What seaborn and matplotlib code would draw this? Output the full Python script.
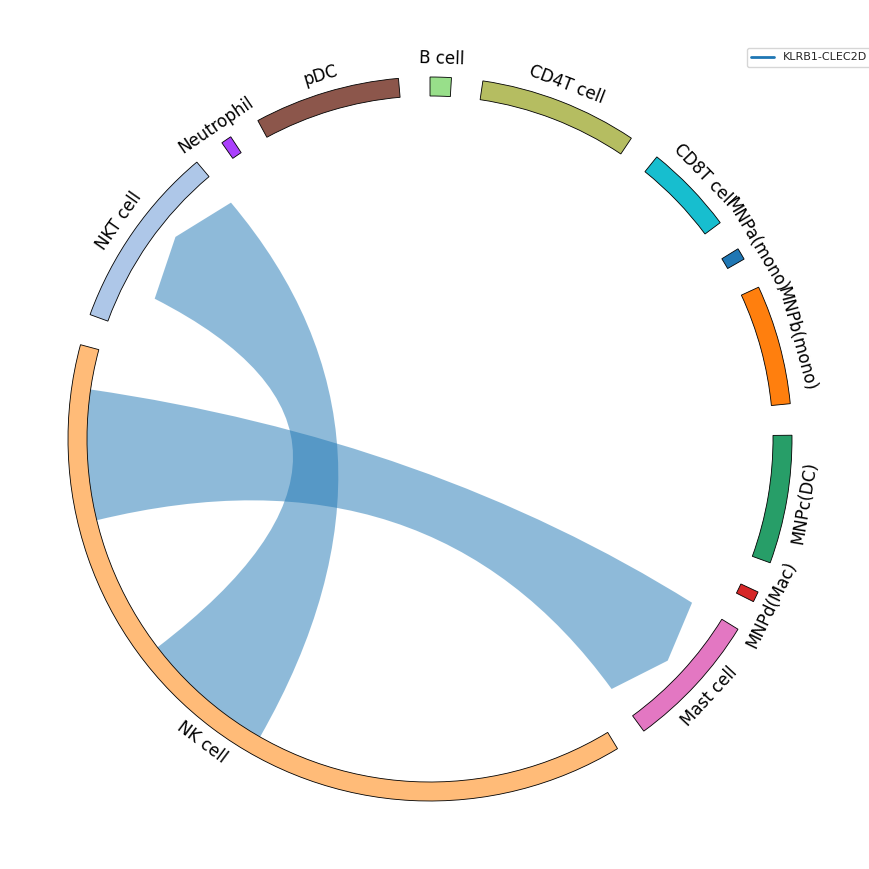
import numpy as np
import matplotlib
matplotlib.use("Agg")
import matplotlib.pyplot as plt
from matplotlib.patches import Wedge, PathPatch
from matplotlib.path import Path
from matplotlib.lines import Line2D
import seaborn as sns

# ---------------- data ----------------
cell_types = ["B cell", "CD4T cell", "CD8T cell", "MNPa(mono)", "MNPb(mono)",
              "MNPc(DC)", "MNPd(Mac)", "Mast cell", "NK cell", "NKT cell",
              "Neutrophil", "pDC"]
cell_sizes = [3.4, 25.4, 14.5, 1.9, 19.2, 20.6, 1.7, 22.1, 136.3, 29.8, 1.7, 23.4]
cell_colors = ["#98df8a", "#b5bd61", "#17becf", "#1f77b4", "#ff7f0e",
               "#279e68", "#d62728", "#e377c2", "#ffbb78", "#aec7e8",
               "#aa40fc", "#8c564b"]

pair_name = "KLRB1-CLEC2D"
chord_sources = ["NK cell", "NK cell"]
chord_targets = ["Mast cell", "NKT cell"]
chord_widths = [22.0, 22.9]
chord_source_offsets = [107.5, 60.9]
chord_target_offsets = [0.3, 6.9]

# ---------------- layout ----------------
sns.set_style("white")
palette = sns.color_palette(cell_colors)
chord_color = sns.color_palette("tab10")[0]

GAP = 5.0
R_OUT, R_IN = 362.0, 343.0
R_TGT, R_TIP = 309.0, 325.0
R_LABEL = 380.0

total = sum(cell_sizes)
scale = (360.0 - GAP * len(cell_types)) / total
starts = {}
spans = {}
pos = 0.0
for name, v in zip(cell_types, cell_sizes):
    starts[name] = pos
    spans[name] = v * scale
    pos += v * scale + GAP


def pt(theta, r):
    t = np.radians(theta)
    return (r * np.sin(t), r * np.cos(t))


fig = plt.figure(figsize=(8.7, 8.69), dpi=100)
ax = fig.add_axes([0, 0, 1, 1])
ax.set_xlim(-430, 440)
ax.set_ylim(-430, 439)
ax.set_aspect("equal")
ax.axis("off")

# chords
for s, t, w, so, to in zip(chord_sources, chord_targets, chord_widths,
                           chord_source_offsets, chord_target_offsets):
    a1 = starts[s] + so * scale
    a2 = a1 + w * scale
    b1 = starts[t] + to * scale
    b2 = b1 + w * scale
    verts, codes = [], []
    for i, th in enumerate(np.linspace(a1, a2, 60)):
        verts.append(pt(th, R_IN))
        codes.append(Path.MOVETO if i == 0 else Path.LINETO)
    verts += [(0, 0), pt(b1, R_TGT)]
    codes += [Path.CURVE3, Path.CURVE3]
    verts += [pt((b1 + b2) / 2, R_TIP), pt(b2, R_TGT)]
    codes += [Path.LINETO, Path.LINETO]
    verts += [(0, 0), pt(a1, R_IN)]
    codes += [Path.CURVE3, Path.CURVE3]
    verts.append(pt(a1, R_IN))
    codes.append(Path.CLOSEPOLY)
    ax.add_patch(PathPatch(Path(verts, codes), facecolor=chord_color,
                           edgecolor="none", alpha=0.5, zorder=1))

# segments and labels
for name, col in zip(cell_types, palette):
    th0 = starts[name]
    th1 = th0 + spans[name]
    ax.add_patch(Wedge((0, 0), R_OUT, 90 - th1, 90 - th0, width=R_OUT - R_IN,
                       facecolor=col, edgecolor="black", linewidth=0.6, zorder=2))
    mid = (th0 + th1) / 2
    rot = -mid
    if 90 < mid < 270:
        rot += 180
    x, y = pt(mid, R_LABEL)
    ax.text(x, y, name, rotation=rot, ha="center", va="center",
            fontsize=12, color="black", zorder=3)

handles = [Line2D([0], [0], color=chord_color, lw=2)]
ax.legend(handles, [pair_name], loc="upper left",
          bbox_to_anchor=(747 / 870, 1 - 48 / 869),
          bbox_transform=fig.transFigure, fontsize=8, borderaxespad=0)

fig.savefig("out.png", dpi=100)
